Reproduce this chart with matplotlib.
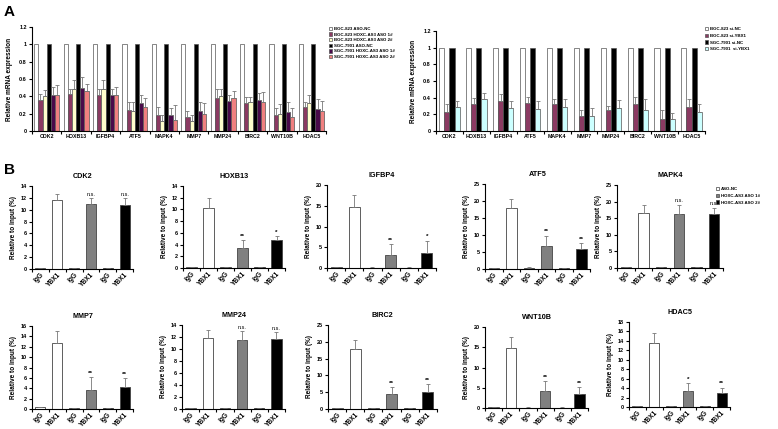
import numpy as np
import matplotlib
matplotlib.use("Agg")
import matplotlib.pyplot as plt
from matplotlib.patches import Patch
from matplotlib.ticker import FormatStrFormatter, FixedLocator

plt.rcParams['font.family'] = ['Liberation Sans', 'DejaVu Sans']

W, H = 778, 429
fig = plt.figure(figsize=(W / 100, H / 100), dpi=100)


def ax_px(l, t, r, b):
    return fig.add_axes([l / W, 1 - b / H, (r - l) / W, (b - t) / H])


# ---------------- data: panel A ----------------
genes = ["CDK2", "HOXB13", "IGFBP4", "ATF5", "MAPK4", "MMP7", "MMP24", "BIRC2", "WNT10B", "HDAC5"]

a_labels = ["BGC-823 ASO-NC", "BGC-823 HOXC-AS3 ASO 1#", "BGC-823 HOXC-AS3 ASO 2#",
            "SGC-7901 ASO-NC", "SGC-7901 HOXC-AS3 ASO 1#", "SGC-7901 HOXC-AS3 ASO 2#"]
a_bgc_nc = [1, 1, 1, 1, 1, 1, 1, 1, 1, 1]
a_bgc_aso1 = [0.36, 0.43, 0.42, 0.24, 0.19, 0.16, 0.38, 0.32, 0.18, 0.28]
a_bgc_aso2 = [0.40, 0.48, 0.48, 0.23, 0.11, 0.12, 0.40, 0.33, 0.20, 0.32]
a_sgc_nc = [1, 1, 1, 1, 1, 1, 1, 1, 1, 1]
a_sgc_aso1 = [0.42, 0.50, 0.41, 0.32, 0.18, 0.23, 0.35, 0.36, 0.22, 0.25]
a_sgc_aso2 = [0.41, 0.46, 0.42, 0.28, 0.13, 0.20, 0.38, 0.33, 0.16, 0.23]
a_err_bgc_aso1 = [0.07, 0.05, 0.07, 0.10, 0.09, 0.07, 0.11, 0.07, 0.08, 0.06]
a_err_bgc_aso2 = [0.07, 0.11, 0.11, 0.10, 0.07, 0.06, 0.08, 0.06, 0.11, 0.10]
a_err_sgc_aso1 = [0.09, 0.12, 0.08, 0.10, 0.08, 0.10, 0.07, 0.08, 0.12, 0.12]
a_err_sgc_aso2 = [0.12, 0.08, 0.09, 0.10, 0.17, 0.12, 0.08, 0.12, 0.11, 0.12]

r_labels = ["BGC-823 si-NC", "BGC-823 si-YBX1", "SGC-7901 si-NC", "SGC-7901  si-YBX1"]
r_bgc_nc = [1, 1, 1, 1, 1, 1, 1, 1, 1, 1]
r_bgc_si = [0.23, 0.32, 0.36, 0.34, 0.32, 0.18, 0.25, 0.32, 0.15, 0.29]
r_sgc_nc = [1, 1, 1, 1, 1, 1, 1, 1, 1, 1]
r_sgc_si = [0.29, 0.38, 0.28, 0.27, 0.29, 0.18, 0.28, 0.25, 0.14, 0.23]
r_err_bgc_si = [0.09, 0.08, 0.08, 0.07, 0.07, 0.07, 0.05, 0.09, 0.10, 0.09]
r_err_sgc_si = [0.07, 0.08, 0.08, 0.09, 0.09, 0.10, 0.09, 0.13, 0.08, 0.09]

# ---------------- data: panel B ----------------
b_cats = ["IgG", "YBX1", "IgG", "YBX1", "IgG", "YBX1"]
b_legend = ["ASO-NC", "HOXC-AS3 ASO 1#", "HOXC-AS3 ASO 2#"]
b_genes = ["CDK2", "HOXB13", "IGFBP4", "ATF5", "MAPK4",
           "MMP7", "MMP24", "BIRC2", "WNT10B", "HDAC5"]
b_values = {
    "CDK2":   [0.10, 11.6, 0.20, 10.9, 0.15, 10.8],
    "HOXB13": [0.15, 10.3, 0.15, 3.4, 0.10, 4.7],
    "IGFBP4": [0.20, 14.7, 0.10, 3.1, 0.10, 3.5],
    "ATF5":   [0.30, 17.9, 0.40, 6.9, 0.20, 5.9],
    "MAPK4":  [0.30, 16.7, 0.30, 16.3, 0.20, 16.2],
    "MMP7":   [0.30, 12.7, 0.15, 3.7, 0.20, 4.2],
    "MMP24":  [0.20, 11.8, 0.15, 11.5, 0.20, 11.6],
    "BIRC2":  [0.20, 17.9, 0.30, 4.4, 0.20, 5.0],
    "WNT10B": [0.15, 14.9, 0.10, 4.3, 0.10, 3.4],
    "HDAC5":  [0.20, 13.6, 0.20, 3.3, 0.15, 2.9],
}
b_errors = {
    "CDK2":   [0.05, 1.0, 0.05, 1.1, 0.05, 1.2],
    "HOXB13": [0.05, 1.6, 0.05, 1.3, 0.05, 0.8],
    "IGFBP4": [0.05, 2.8, 0.05, 2.6, 0.05, 3.1],
    "ATF5":   [0.10, 2.6, 0.10, 2.9, 0.05, 1.8],
    "MAPK4":  [0.10, 2.4, 0.10, 2.8, 0.05, 2.0],
    "MMP7":   [0.05, 2.3, 0.05, 2.5, 0.05, 1.8],
    "MMP24":  [0.05, 1.4, 0.05, 1.5, 0.05, 1.2],
    "BIRC2":  [0.05, 2.7, 0.05, 2.0, 0.05, 2.4],
    "WNT10B": [0.05, 2.6, 0.05, 2.3, 0.05, 1.8],
    "HDAC5":  [0.05, 2.0, 0.05, 1.8, 0.05, 1.2],
}
b_sig = {
    "CDK2": ["n.s.", "n.s."], "HOXB13": ["**", "*"], "IGFBP4": ["**", "*"],
    "ATF5": ["**", "**"], "MAPK4": ["n.s.", "n.s."], "MMP7": ["**", "**"],
    "MMP24": ["n.s.", "n.s."], "BIRC2": ["**", "**"], "WNT10B": ["**", "**"],
    "HDAC5": ["*", "**"],
}
b_ymax = {"CDK2": (14, 2), "HOXB13": (14, 2), "IGFBP4": (20, 5), "ATF5": (25, 5),
          "MAPK4": (25, 5), "MMP7": (16, 2), "MMP24": (14, 2), "BIRC2": (25, 5),
          "WNT10B": (20, 5), "HDAC5": (18, 2)}

# ---------------- styles ----------------
TICK_FS = 4.0
LAB_FS = 4.7


def excel_axes(ax, n, ymax, ystep, fmt):
    ax.set_xlim(-0.5, n - 0.5)
    ax.set_ylim(0, ymax)
    ax.set_yticks(np.arange(0, ymax + ystep / 2, ystep))
    ax.yaxis.set_major_formatter(FormatStrFormatter(fmt))
    for s in ["top", "right"]:
        ax.spines[s].set_visible(False)
    for s in ["left", "bottom"]:
        ax.spines[s].set_linewidth(0.8)
    ax.xaxis.set_minor_locator(FixedLocator(np.arange(-0.5, n, 1.0)))
    ax.tick_params(axis="x", which="major", length=0, pad=2.5)
    ax.tick_params(axis="x", which="minor", length=2.2, width=0.8, direction="out")
    ax.tick_params(axis="y", length=2.2, width=0.8, direction="out", pad=1.5, labelsize=TICK_FS)
    for t in ax.get_yticklabels():
        t.set_fontweight("bold")


def grouped(ax, series, errs, colors, width):
    x = np.arange(len(genes))
    k = len(series)
    for i, (vals, err, c) in enumerate(zip(series, errs, colors)):
        pos = x + (i - (k - 1) / 2) * width
        ax.bar(pos, vals, width, color=c, edgecolor="#555555", linewidth=0.5)
        if err is not None:
            ax.errorbar(pos, vals, yerr=[np.zeros(len(vals)), err], fmt="none",
                        ecolor="#777777", elinewidth=0.6, capsize=1.3, capthick=0.6)
    ax.set_xticks(x)
    ax.set_xticklabels(genes, fontsize=3.8, fontweight="bold")


# ---------------- panel A left ----------------
col_a = ["white", "#8b3a62", "#ffffcc", "black", "#4a0a4a", "#f08080"]
axA = ax_px(32, 27, 326, 131)
grouped(axA, [a_bgc_nc, a_bgc_aso1, a_bgc_aso2, a_sgc_nc, a_sgc_aso1, a_sgc_aso2],
        [None, a_err_bgc_aso1, a_err_bgc_aso2, None, a_err_sgc_aso1, a_err_sgc_aso2],
        col_a, 0.142)
excel_axes(axA, 10, 1.2, 0.2, "%g")
axA.set_ylabel("Relative mRNA expression", fontsize=LAB_FS, fontweight="bold", labelpad=4)
fig.legend([Patch(facecolor=c, edgecolor="#555555", linewidth=0.5) for c in col_a], a_labels,
           loc="upper left", bbox_to_anchor=(328 / W, 1 - 26 / H), frameon=False,
           handlelength=0.8, handleheight=0.8, handletextpad=0.3, labelspacing=0.3,
           borderaxespad=0, borderpad=0.2, prop={"size": 3.2, "weight": "bold"})

# ---------------- panel A right ----------------
col_r = ["white", "#8b3a62", "black", "#ccffff"]
axR = ax_px(436, 31, 705, 131)
grouped(axR, [r_bgc_nc, r_bgc_si, r_sgc_nc, r_sgc_si],
        [None, r_err_bgc_si, None, r_err_sgc_si], col_r, 0.19)
excel_axes(axR, 10, 1.2, 0.2, "%g")
axR.set_ylabel("Relative mRNA expression", fontsize=LAB_FS, fontweight="bold", labelpad=4)
fig.legend([Patch(facecolor=c, edgecolor="#555555", linewidth=0.5) for c in col_r], r_labels,
           loc="upper left", bbox_to_anchor=(704 / W, 1 - 26 / H), frameon=False,
           handlelength=0.8, handleheight=0.8, handletextpad=0.3, labelspacing=0.55,
           borderaxespad=0, borderpad=0.2, prop={"size": 3.2, "weight": "bold"})

# ---------------- panel B ----------------
b_boxes = {
    "CDK2": (32, 186, 133, 269), "HOXB13": (183, 186, 285, 268),
    "IGFBP4": (327, 185, 436, 268), "ATF5": (485, 184, 590, 269),
    "MAPK4": (617, 185, 723, 268),
    "MMP7": (32, 326, 133, 409), "MMP24": (182, 325, 285, 409),
    "BIRC2": (328, 325, 437, 409), "WNT10B": (485, 327, 588, 408),
    "HDAC5": (629, 322, 730, 407),
}
col_b = ["white", "white", "#808080", "#808080", "black", "black"]

for g in b_genes:
    l, t, r, b = b_boxes[g]
    ax = ax_px(l, t, r, b)
    vals = b_values[g]
    errs = b_errors[g]
    x = np.arange(len(b_cats))
    ax.bar(x, vals, 0.6, color=col_b, edgecolor="#444444", linewidth=0.6)
    ax.errorbar(x, vals, yerr=[np.zeros(len(vals)), errs], fmt="none",
                ecolor="#777777", elinewidth=0.6, capsize=1.5, capthick=0.6)
    ymax, ystep = b_ymax[g]
    excel_axes(ax, len(b_cats), ymax, ystep, "%d")
    ax.set_xticks(x)
    ax.set_xticklabels(b_cats, fontsize=4.8, fontweight="bold", rotation=45,
                       ha="right", rotation_mode="anchor")
    ax.tick_params(axis="x", which="major", pad=1.5)
    ax.set_ylabel("Relative to input (%)", fontsize=LAB_FS, fontweight="bold", labelpad=2.5)
    ax.set_title(g, fontsize=5.2, fontweight="bold", pad=5.5)
    for j, s in zip([3, 5], b_sig[g]):
        ax.text(x[j], vals[j] + errs[j] + ymax * 0.015, s, ha="center", va="bottom",
                fontsize=4.6 if s != "n.s." else 4.0,
                fontweight="bold" if s != "n.s." else "normal")

fig.legend([Patch(facecolor=c, edgecolor="#444444", linewidth=0.5) for c in ["white", "#808080", "black"]],
           b_legend, loc="upper left", bbox_to_anchor=(715 / W, 1 - 186 / H), frameon=False,
           handlelength=0.8, handleheight=0.8, handletextpad=0.3, labelspacing=0.55,
           borderaxespad=0, borderpad=0.2, prop={"size": 3.2, "weight": "bold"})

fig.text(4 / W, 1 - 12 / H, "A", fontsize=11, fontweight="bold", va="center")
fig.text(4 / W, 1 - 170 / H, "B", fontsize=11, fontweight="bold", va="center")

fig.savefig("out.png", dpi=100)
